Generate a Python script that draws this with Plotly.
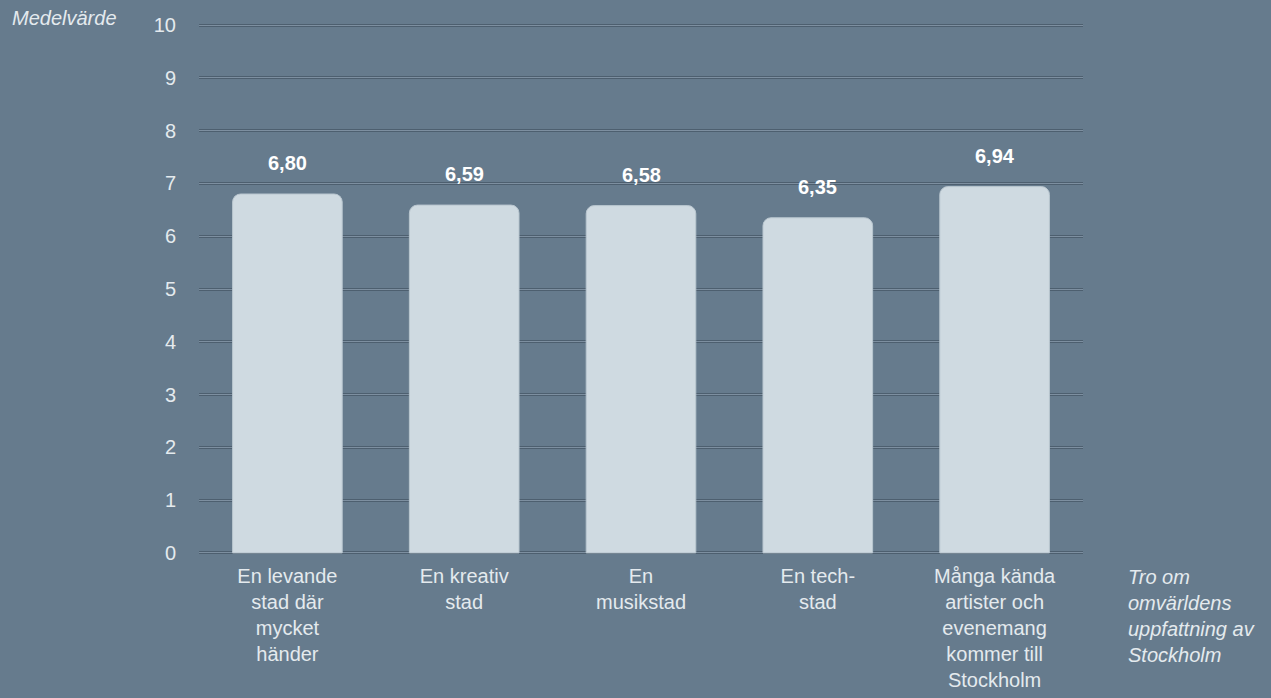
import plotly.graph_objects as go

categories = [
    "En levande<br>stad där<br>mycket<br>händer",
    "En kreativ<br>stad",
    "En<br>musikstad",
    "En tech-<br>stad",
    "Många kända<br>artister och<br>evenemang<br>kommer till<br>Stockholm",
]
values = [6.80, 6.59, 6.58, 6.35, 6.94]
y_ticks = list(range(0, 11))

BG = "#667b8d"
BAR = "#cfdae1"
TXT = "#e4eaee"
FONT = "Liberation Sans, Arial, sans-serif"
Y_RANGE = [-0.04, 10.04]

fig = go.Figure()
fig.add_trace(go.Bar(
    x=categories, y=values,
    marker=dict(color=BAR, line=dict(color="#b9c6cf", width=1), cornerradius=8),
    hoverinfo="skip",
))
# thin inner gridline on overlaying axis
fig.add_trace(go.Scatter(x=categories, y=values, yaxis="y2", mode="none",
                         hoverinfo="skip", showlegend=False))

for c, v in zip(categories, values):
    fig.add_annotation(x=c, y=v, text=f"<b>{v:.2f}</b>".replace(".", ","),
                       showarrow=False, yanchor="bottom", yshift=18,
                       font=dict(family=FONT, size=20, color="#ffffff"))

fig.add_annotation(xref="paper", yref="paper", x=-0.2138, y=1.0133, xanchor="left", yanchor="middle",
                   text="<i>Medelvärde</i>", showarrow=False, yshift=-2,
                   font=dict(family=FONT, size=20, color=TXT))
fig.add_annotation(xref="paper", yref="paper", x=1.0486, y=0, xanchor="left", yanchor="top",
                   text="<i>Tro om<br>omvärldens<br>uppfattning av<br>Stockholm</i>", align="left",
                   showarrow=False, yshift=-9,
                   font=dict(family=FONT, size=20, color=TXT))

fig.update_layout(
    width=1271, height=698,
    paper_bgcolor=BG, plot_bgcolor=BG,
    margin=dict(l=199, r=188, t=23, b=143, autoexpand=False),
    bargap=0.38,
    showlegend=False,
    separators=", ",
    font=dict(family=FONT, size=20, color=TXT),
    xaxis=dict(showgrid=False, showline=False, ticks="", tickfont=dict(size=20, color=TXT),
               ticklabelstandoff=7, automargin=False),
    yaxis=dict(range=Y_RANGE, tickvals=y_ticks, showgrid=True, gridcolor="#4d5f6f", gridwidth=3,
               zeroline=False, showline=False, ticks="", ticklabelstandoff=22,
               tickfont=dict(size=20, color=TXT), automargin=False),
    yaxis2=dict(range=Y_RANGE, tickvals=y_ticks, overlaying="y", showgrid=True,
                gridcolor="#7d8fa0", gridwidth=1, zeroline=False, showticklabels=False,
                layer="below traces", automargin=False),
)

fig.write_html("out.html", config={"displayModeBar": False},
               post_script="document.body.style.margin='0';")
